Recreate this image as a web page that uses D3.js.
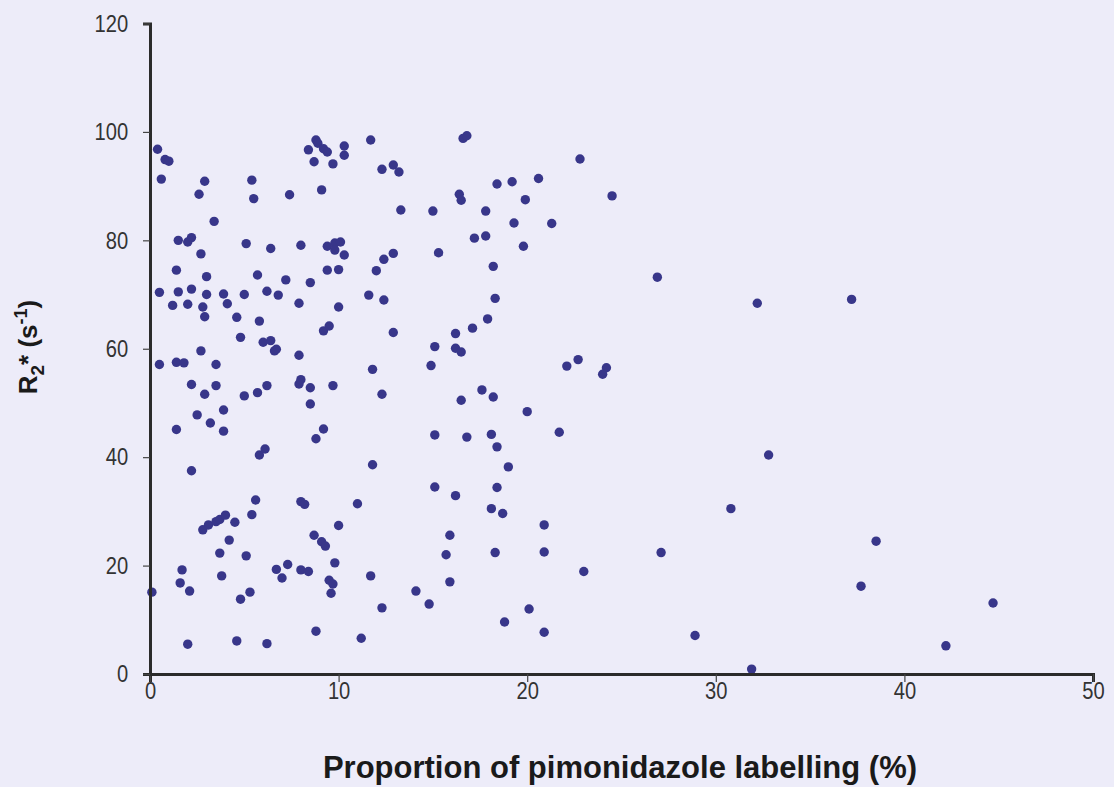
<!DOCTYPE html>
<html lang="en">
<head>
  <meta charset="UTF-8">
  <title>R2* vs pimonidazole labelling</title>
  <script src="https://d3js.org/d3.v7.min.js"></script>
  <style>
    body { margin: 0; background: #edecf9; }
    .tick text { font-family: 'Liberation Sans', Arial, sans-serif; font-size: 24px; fill: #333; }
    .axis-title { font-family: 'Liberation Sans', Arial, sans-serif; font-weight: bold; fill: #1a1a1a; }
    .dot { fill: #38368a; }
  </style>
</head>
<body>
<div id="chart"></div>
<script>
  // pimonidazole labelling (%) and R2* (s^-1)
  const xVals = [
    0.4, 0.8, 1.0, 0.6, 2.9, 2.6, 5.4, 5.5, 7.4, 9.1, 8.4, 8.8, 8.9, 9.2, 9.4, 8.7, 9.7, 10.3, 10.3, 3.4,
    1.5, 2.0, 2.2, 2.7, 1.4, 3.0, 5.1, 6.4, 5.7, 7.2, 8.0, 8.5, 9.4, 9.8, 10.1, 9.8, 10.3, 9.4, 10.0, 0.5,
    1.5, 2.2, 3.0, 3.9, 5.0, 6.2, 6.8, 1.2, 2.0, 2.8, 2.9, 4.1, 4.6, 5.8, 7.9, 10.0, 9.2, 9.5, 4.8, 6.0,
    6.4, 6.6, 6.7, 2.7, 0.5, 1.4, 1.8, 3.5, 7.9, 2.2, 3.5, 2.9, 5.0, 5.7, 6.2, 7.9, 8.0, 8.5, 9.7, 8.5,
    3.9, 2.5, 3.2, 3.9, 1.4, 9.2, 8.8, 5.8, 6.1, 2.2, 5.6, 5.4, 2.8, 3.1, 3.5, 3.7, 4.0, 4.5, 4.2, 3.7,
    5.1, 8.0, 8.2, 10.0, 8.7, 9.1, 9.3, 11.0, 9.8, 1.7, 1.6, 2.1, 0.1, 3.8, 6.7, 7.3, 7.0, 8.0, 8.4, 9.5,
    9.7, 9.6, 4.8, 5.3, 2.0, 4.6, 6.2, 8.8, 11.2, 11.7, 16.6, 16.8, 22.8, 12.3, 12.9, 13.2, 24.5, 18.4, 19.2, 20.6,
    19.9, 16.4, 16.5, 13.3, 15.0, 17.8, 19.3, 21.3, 17.2, 17.8, 19.8, 12.4, 12.9, 12.0, 15.3, 18.2, 11.6, 12.4, 18.3, 17.9,
    17.1, 16.2, 12.9, 15.1, 16.2, 16.5, 14.9, 11.8, 12.3, 22.1, 22.7, 24.2, 24.0, 17.6, 18.2, 16.5, 20.0, 15.1, 16.8, 18.1,
    18.4, 21.7, 19.0, 11.8, 15.1, 18.4, 16.2, 18.1, 18.7, 20.9, 15.9, 15.7, 18.3, 20.9, 23.0, 11.7, 15.9, 14.1, 14.8, 12.3,
    20.1, 18.8, 20.9, 26.9, 32.2, 37.2, 32.8, 30.8, 27.1, 38.5, 37.7, 44.7, 28.9, 42.2, 31.9
  ];
  const yVals = [
    96.8, 94.9, 94.6, 91.3, 90.9, 88.5, 91.1, 87.7, 88.4, 89.3, 96.7, 98.5, 97.9, 96.9, 96.3, 94.5, 94.1, 97.4, 95.7, 83.5,
    80.0, 79.7, 80.5, 77.5, 74.5, 73.3, 79.4, 78.5, 73.6, 72.7, 79.1, 72.2, 78.9, 79.5, 79.7, 78.2, 77.3, 74.5, 74.6, 70.4,
    70.5, 71.0, 70.0, 70.1, 70.0, 70.6, 69.9, 68.0, 68.2, 67.7, 65.9, 68.3, 65.8, 65.1, 68.4, 67.7, 63.3, 64.2, 62.1, 61.2,
    61.5, 59.6, 59.9, 59.6, 57.1, 57.5, 57.4, 57.1, 58.8, 53.4, 53.2, 51.6, 51.3, 51.9, 53.2, 53.5, 54.3, 52.8, 53.2, 49.8,
    48.7, 47.8, 46.3, 44.8, 45.1, 45.2, 43.4, 40.4, 41.5, 37.5, 32.1, 29.4, 26.6, 27.5, 28.1, 28.5, 29.3, 28.0, 24.7, 22.3,
    21.8, 31.8, 31.3, 27.4, 25.6, 24.4, 23.6, 31.4, 20.5, 19.2, 16.8, 15.3, 15.1, 18.1, 19.3, 20.2, 17.7, 19.2, 18.9, 17.3,
    16.6, 14.9, 13.8, 15.1, 5.5, 6.1, 5.6, 7.9, 6.6, 98.5, 98.8, 99.3, 95.0, 93.1, 93.9, 92.6, 88.2, 90.4, 90.8, 91.4,
    87.5, 88.5, 87.4, 85.6, 85.4, 85.4, 83.2, 83.1, 80.4, 80.8, 78.9, 76.5, 77.6, 74.4, 77.7, 75.2, 69.9, 69.0, 69.3, 65.5,
    63.8, 62.8, 63.0, 60.4, 60.1, 59.4, 56.9, 56.2, 51.6, 56.8, 58.0, 56.5, 55.3, 52.4, 51.1, 50.5, 48.4, 44.1, 43.7, 44.2,
    41.9, 44.6, 38.2, 38.6, 34.5, 34.4, 32.9, 30.5, 29.6, 27.5, 25.6, 22.0, 22.4, 22.5, 18.9, 18.1, 17.0, 15.3, 12.9, 12.2,
    12.0, 9.6, 7.7, 73.2, 68.4, 69.1, 40.4, 30.5, 22.4, 24.5, 16.2, 13.1, 7.1, 5.2, 0.9
  ];
  const xTicks = [0, 10, 20, 30, 40, 50];
  const yTicks = [0, 20, 40, 60, 80, 100, 120];

  const width = 1114, height = 787;
  const plotLeft = 150, plotRight = 1093, plotTop = 23.5, plotBottom = 674;
  const narrow = 0.84; // tick digits in the scan are taller than they are wide

  const svg = d3.select('#chart').append('svg')
    .attr('width', width)
    .attr('height', height);

  const x = d3.scaleLinear().domain([0, 50]).range([plotLeft, plotRight]);
  const y = d3.scaleLinear().domain([0, 120]).range([plotBottom, plotTop]);

  // points first so the axes sit on top of them
  svg.selectAll('.dot')
    .data(xVals.map((v, i) => [v, yVals[i]]))
    .enter().append('circle')
    .attr('class', 'dot')
    .attr('cx', d => x(d[0]))
    .attr('cy', d => y(d[1]))
    .attr('r', 4.7);

  const xAxis = svg.append('g')
    .attr('transform', `translate(0,${plotBottom})`)
    .call(d3.axisBottom(x).tickValues(xTicks).tickSize(8).tickPadding(0));

  const yAxis = svg.append('g')
    .attr('transform', `translate(${plotLeft},0)`)
    .call(d3.axisLeft(y).tickValues(yTicks).tickSize(7).tickPadding(19));

  xAxis.select('.domain').attr('stroke', '#2b2b2b').attr('stroke-width', 3);
  yAxis.select('.domain').attr('stroke', '#2b2b2b').attr('stroke-width', 3);
  xAxis.selectAll('.tick line').attr('stroke', '#444').attr('stroke-width', 1.2);
  yAxis.selectAll('.tick line').attr('stroke', '#444').attr('stroke-width', 1.2);
  svg.selectAll('.tick text').attr('transform', `scale(${narrow},1)`);

  // axis titles
  svg.append('text')
    .attr('class', 'axis-title')
    .attr('x', 620)
    .attr('y', 778)
    .attr('text-anchor', 'middle')
    .style('font-size', '31px')
    .text('Proportion of pimonidazole labelling (%)');

  const yTitle = svg.append('text')
    .attr('class', 'axis-title')
    .attr('transform', 'translate(37,347) rotate(-90)')
    .attr('text-anchor', 'middle')
    .style('font-size', '26px');
  yTitle.append('tspan').text('R');
  yTitle.append('tspan').attr('dy', 7).style('font-size', '19px').text('2');
  yTitle.append('tspan').attr('dy', -7).text('*  (s');
  yTitle.append('tspan').attr('dy', -10).style('font-size', '18px').text('-1');
  yTitle.append('tspan').attr('dy', 10).text(')');
</script>
</body>
</html>
